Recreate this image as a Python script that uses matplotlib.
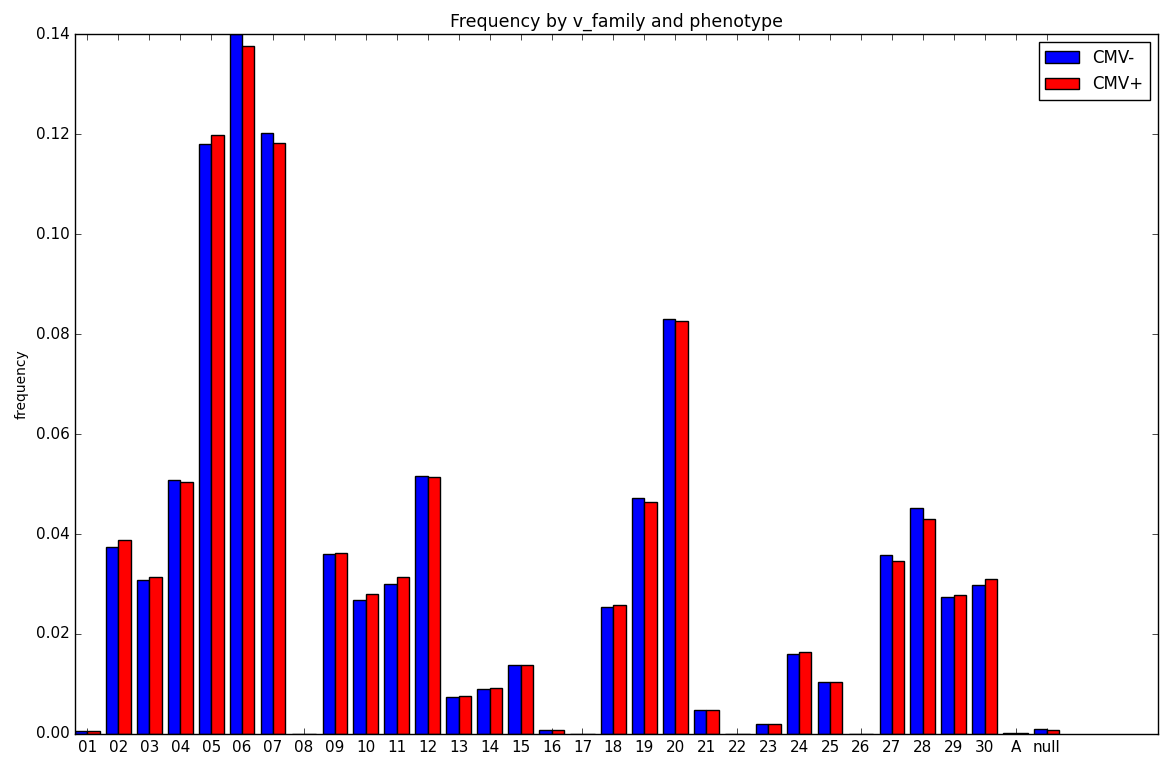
import numpy as np
import matplotlib
matplotlib.use("agg")
import matplotlib.pyplot as plt

plt.style.use("classic")

families = ["01", "02", "03", "04", "05", "06", "07", "08", "09", "10",
            "11", "12", "13", "14", "15", "16", "17", "18", "19", "20",
            "21", "22", "23", "24", "25", "26", "27", "28", "29", "30",
            "A", "null"]

cmv_neg = [0.0005, 0.0375, 0.0308, 0.0509, 0.1181, 0.1400, 0.1202, 0.0, 0.0361, 0.0267,
           0.0301, 0.0517, 0.0074, 0.0089, 0.0137, 0.0008, 0.0, 0.0253, 0.0473, 0.0831,
           0.0047, 0.0, 0.0019, 0.0159, 0.0103, 0.0, 0.0358, 0.0452, 0.0273, 0.0299,
           0.0002, 0.0010]

cmv_pos = [0.0005, 0.0389, 0.0314, 0.0504, 0.1199, 0.1377, 0.1183, 0.0, 0.0363, 0.0279,
           0.0314, 0.0515, 0.0076, 0.0091, 0.0137, 0.0008, 0.0, 0.0257, 0.0464, 0.0826,
           0.0047, 0.0, 0.0019, 0.0163, 0.0103, 0.0, 0.0347, 0.0430, 0.0277, 0.0310,
           0.0002, 0.0008]

width = 0.4
x = np.arange(len(families))

fig = plt.figure(figsize=(11.63, 7.58), dpi=100)
ax = fig.add_axes([0.0645, 0.0317, 0.9312, 0.9233])

ax.bar(x, cmv_neg, width, align="edge", color="blue", label="CMV-")
ax.bar(x + width, cmv_pos, width, align="edge", color="red", label="CMV+")

ax.set_xticks(x + width)
ax.set_xticklabels(families)
ax.set_xlim(0, 35)
ax.set_ylim(0, 0.14)
ax.set_yticks(np.arange(0, 0.141, 0.02))
ax.yaxis.set_major_formatter(matplotlib.ticker.FormatStrFormatter("%.2f"))
ax.tick_params(labelsize=11)

ax.set_title("Frequency by v_family and phenotype", fontsize=12.5)
ax.set_ylabel("frequency", fontsize=10)
ax.legend(loc="upper right", fontsize=12)

fig.savefig("out.png", dpi=100)
